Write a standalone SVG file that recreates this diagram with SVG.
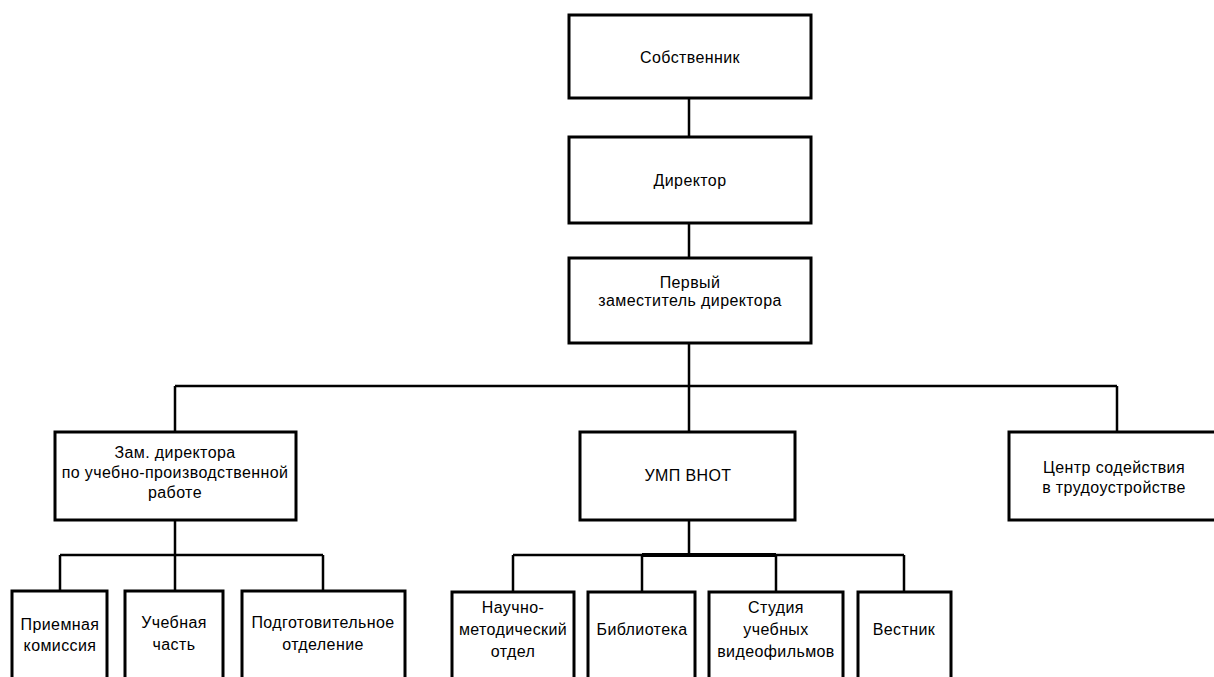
<svg xmlns="http://www.w3.org/2000/svg" width="1214" height="677" viewBox="0 0 1214 677">
<style>
.box{fill:#fff;stroke:#000;stroke-width:3}
.c{fill:none;stroke:#000;stroke-width:2.5}
.t{font-family:"Liberation Sans",Arial,sans-serif;font-size:16px;letter-spacing:0.4px;fill:#000;text-anchor:middle}
</style>
<rect width="1214" height="677" fill="#fff"/>
<g id="connectors">
<path class="c" d="M689 98V137M689 223V258M689 343V386M175 386H1117M175 386V432M689 386V432M1117 386V432"/>
<path class="c" d="M175 520V555M60 555H323M60 555V591M175 555V591M323 555V591"/>
<path class="c" d="M689 520V555M513 555H904M513 555V592M642 555V592M776 555V592M904 555V592"/>
<path class="c" d="M642 555H776" style="stroke-width:4"/>
</g>
<g id="sobstvennik"><rect class="box" x="569" y="15" width="242" height="83"/><text class="t" x="690" y="63">Собственник</text></g>
<g id="direktor"><rect class="box" x="569" y="137" width="242" height="86"/><text class="t" x="690" y="186">Директор</text></g>
<g id="perviy"><rect class="box" x="569" y="258" width="242" height="85"/><text class="t" x="690" y="288">Первый</text><text class="t" x="690" y="306">заместитель директора</text></g>
<g id="zam"><rect class="box" x="55" y="432" width="241" height="88"/><text class="t" x="175" y="458">Зам. директора</text><text class="t" x="175" y="478">по учебно-производственной</text><text class="t" x="175" y="498">работе</text></g>
<g id="ump"><rect class="box" x="580" y="432" width="215" height="88"/><text class="t" x="688" y="481">УМП ВНОТ</text></g>
<g id="centr"><rect class="box" x="1009" y="432" width="210" height="88"/><text class="t" x="1114" y="473">Центр содействия</text><text class="t" x="1114" y="493">в трудоустройстве</text></g>
<g id="priemnaya"><rect class="box" x="12" y="591" width="95" height="95"/><text class="t" x="60" y="630">Приемная</text><text class="t" x="60" y="651">комиссия</text></g>
<g id="uchebnaya"><rect class="box" x="125" y="591" width="98" height="95"/><text class="t" x="174" y="628">Учебная</text><text class="t" x="174" y="650">часть</text></g>
<g id="podgot"><rect class="box" x="242" y="591" width="163" height="95"/><text class="t" x="323" y="628">Подготовительное</text><text class="t" x="323" y="650">отделение</text></g>
<g id="nauchno"><rect class="box" x="452" y="592" width="122" height="95"/><text class="t" x="513" y="613">Научно-</text><text class="t" x="513" y="635">методический</text><text class="t" x="513" y="657">отдел</text></g>
<g id="biblioteka"><rect class="box" x="588" y="592" width="107" height="95"/><text class="t" x="642" y="635">Библиотека</text></g>
<g id="studiya"><rect class="box" x="709" y="592" width="134" height="95"/><text class="t" x="776" y="613">Студия</text><text class="t" x="776" y="635">учебных</text><text class="t" x="776" y="657">видеофильмов</text></g>
<g id="vestnik"><rect class="box" x="858" y="592" width="93" height="95"/><text class="t" x="904" y="635">Вестник</text></g>
</svg>
